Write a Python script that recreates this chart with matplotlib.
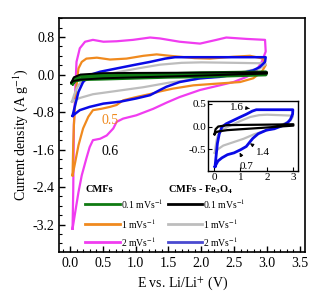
import matplotlib
matplotlib.use("Agg")
import matplotlib.pyplot as plt
from matplotlib.ticker import MultipleLocator

plt.rcParams['font.family'] = ['Liberation Serif', 'DejaVu Serif']
plt.rcParams['mathtext.fontset'] = 'stix'

# ---- data (E in V, current density in A/g) ----
mag_x = [0.04, 0.05, 0.06, 0.08, 0.10, 0.15, 0.23, 0.35, 0.51, 0.71, 0.96, 1.22, 1.37, 1.67, 1.98, 2.23, 2.38, 2.69, 2.97, 2.98,
         2.92, 2.84, 2.69, 2.49, 2.28, 1.98, 1.67, 1.47, 1.27, 1.01, 0.81, 0.71, 0.66, 0.56, 0.46, 0.35, 0.30, 0.25, 0.18, 0.13, 0.08, 0.04]
mag_y = [-3.29, -2.50, -1.08, -0.37, 0.27, 0.56, 0.70, 0.74, 0.70, 0.71, 0.74, 0.79, 0.77, 0.70, 0.66, 0.74, 0.79, 0.76, 0.74, 0.49,
         0.27, 0.09, -0.05, -0.16, -0.23, -0.33, -0.48, -0.60, -0.73, -0.87, -0.94, -1.01, -1.15, -1.30, -1.37, -1.40, -1.55, -1.79, -2.15, -2.51, -2.94, -3.29]

org_x = [0.04, 0.05, 0.06, 0.09, 0.13, 0.18, 0.25, 0.41, 0.61, 0.86, 1.12, 1.32, 1.52, 1.67, 1.90, 2.13, 2.49, 2.74, 2.94, 2.98,
         2.92, 2.79, 2.59, 2.28, 1.88, 1.57, 1.37, 1.27, 1.01, 0.81, 0.71, 0.61, 0.48, 0.35, 0.28, 0.20, 0.13, 0.08, 0.04]
org_y = [-2.15, -1.50, -1.08, -0.37, 0.13, 0.27, 0.34, 0.36, 0.32, 0.34, 0.40, 0.43, 0.40, 0.38, 0.35, 0.34, 0.38, 0.40, 0.34, 0.20,
         0.06, -0.08, -0.16, -0.19, -0.23, -0.30, -0.36, -0.40, -0.48, -0.55, -0.65, -0.69, -0.73, -0.76, -0.90, -1.15, -1.51, -1.87, -2.15]

grn_x = [0.04, 0.07, 0.15, 0.50, 1.00, 1.50, 2.00, 2.50, 2.98, 2.98, 2.50, 2.00, 1.50, 1.00, 0.50, 0.20, 0.08, 0.04]
grn_y = [-0.19, -0.08, -0.03, -0.02, 0.00, 0.01, 0.03, 0.04, 0.05, 0.00, -0.02, -0.04, -0.05, -0.07, -0.09, -0.10, -0.13, -0.19]

blk_x = [0.02, 0.06, 0.16, 0.50, 1.00, 1.80, 2.50, 3.00, 3.00, 2.50, 1.80, 1.00, 0.50, 0.15, 0.05, 0.02]
blk_y = [-0.17, -0.06, 0.00, 0.03, 0.035, 0.04, 0.045, 0.05, 0.02, 0.00, -0.03, -0.06, -0.08, -0.11, -0.14, -0.17]

gry_x = [0.03, 0.06, 0.10, 0.15, 0.30, 0.51, 0.76, 1.07, 1.37, 1.70, 2.00, 2.50, 2.95, 2.98,
         2.89, 2.64, 2.20, 1.80, 1.52, 1.12, 0.71, 0.35, 0.15, 0.06, 0.03]
gry_y = [-0.58, -0.45, -0.30, -0.19, -0.08, -0.01, 0.06, 0.14, 0.21, 0.25, 0.26, 0.25, 0.24, 0.22,
         0.13, 0.06, -0.05, -0.12, -0.17, -0.27, -0.35, -0.42, -0.50, -0.56, -0.58]

blu_x = [0.04, 0.08, 0.13, 0.20, 0.30, 0.46, 0.71, 0.96, 1.22, 1.45, 1.60, 2.00, 2.50, 2.98,
         2.97, 2.89, 2.79, 2.59, 2.28, 1.98, 1.67, 1.47, 1.37, 1.22, 1.01, 0.76, 0.51, 0.30, 0.15, 0.04]
blu_y = [-0.88, -0.65, -0.37, -0.16, -0.01, 0.06, 0.13, 0.20, 0.27, 0.34, 0.37, 0.37, 0.37, 0.37,
         0.27, 0.16, 0.09, 0.02, -0.05, -0.08, -0.16, -0.26, -0.33, -0.44, -0.51, -0.58, -0.62, -0.69, -0.76, -0.88]

col_grn = '#0f7a12'
col_org = '#f08a1e'
col_mag = '#f03cf0'
col_blk = '#000000'
col_gry = '#bdbdbd'
col_blu = '#0a0ae6'

fig = plt.figure(figsize=(3.32, 3.00), dpi=100)
ax = fig.add_axes([0.179, 0.161, 0.740, 0.778])

ax.plot(mag_x, mag_y, color=col_mag, lw=1.6)
ax.plot(org_x, org_y, color=col_org, lw=1.6)
ax.plot(gry_x, gry_y, color=col_gry, lw=1.6)
ax.plot(blu_x, blu_y, color=col_blu, lw=1.8)
ax.plot(grn_x, grn_y, color=col_grn, lw=2.6)
ax.plot(blk_x, blk_y, color=col_blk, lw=1.4)

ax.set_xlim(-0.16, 3.58)
ax.set_ylim(-3.78, 1.20)
ax.xaxis.set_major_locator(MultipleLocator(0.5))
ax.xaxis.set_minor_locator(MultipleLocator(0.1))
ax.yaxis.set_major_locator(MultipleLocator(0.8))
ax.yaxis.set_minor_locator(MultipleLocator(0.2))
ax.set_yticks([0.8, 0.0, -0.8, -1.6, -2.4, -3.2])
ax.set_yticklabels(['0.8', '0.0', '-0.8', '-1.6', '-2.4', '-3.2'])
ax.tick_params(which='both', direction='in', top=False, right=False, labelsize=10)
ax.tick_params(which='major', length=4, width=1)
ax.tick_params(which='minor', length=2, width=0.8)
for s in ax.spines.values():
    s.set_linewidth(1.2)
ax.set_xlabel(r'E vs. Li/Li$^{+}$ (V)', fontsize=10, labelpad=4)
ax.set_ylabel(r'Current density (A g$^{-1}$)', fontsize=10, labelpad=2)

ax.text(0.61, -0.98, '0.5', color=col_org, fontsize=10, ha='center', va='center')
ax.text(0.61, -1.65, '0.6', color='black', fontsize=10, ha='center', va='center')

# legend (manual)
ax.text(0.105, 0.266, 'CMFs', transform=ax.transAxes, fontsize=7.5, fontweight='bold', va='center')
ax.text(0.442, 0.266, r'CMFs - Fe$_\mathbf{3}$O$_\mathbf{4}$', transform=ax.transAxes, fontsize=7.5,
        fontweight='bold', va='center')
rows = [0.204, 0.117, 0.042]
labels = [r'0.1 mVs$^{-1}$', r'1 mVs$^{-1}$', r'2 mVs$^{-1}$']
left_cols = [col_grn, col_org, col_mag]
right_cols = [col_blk, col_gry, '#4a4ad0']
for r, lab, c1, c2 in zip(rows, labels, left_cols, right_cols):
    ax.plot([0.105, 0.247], [r, r], color=c1, lw=2.0, transform=ax.transAxes)
    ax.text(0.252, r, lab, transform=ax.transAxes, fontsize=7, va='center')
    ax.plot([0.442, 0.581], [r, r], color=c2, lw=2.0, transform=ax.transAxes)
    ax.text(0.586, r, lab, transform=ax.transAxes, fontsize=7, va='center')

# inset
axi = fig.add_axes([0.627, 0.430, 0.271, 0.233])
axi.plot(gry_x, gry_y, color=col_gry, lw=1.6)
axi.plot(blu_x, blu_y, color=col_blu, lw=2.0)
axi.plot(blk_x, blk_y, color=col_blk, lw=1.6)
axi.set_xlim(-0.22, 3.18)
axi.set_ylim(-0.98, 0.56)
axi.set_xticks([0, 1, 2, 3])
axi.set_yticks([0.5, 0.0, -0.5])
axi.set_yticklabels(['0.5', '0.0', '-0.5'])
axi.tick_params(direction='in', labelsize=8, length=3, pad=1.5, top=False, right=False)
for s in axi.spines.values():
    s.set_linewidth(1.0)

arrowkw = dict(arrowstyle='-|>', color='black', lw=0.7, mutation_scale=5)
axi.annotate('1.6', xy=(1.45, 0.39), xytext=(0.86, 0.43), fontsize=8, ha='center', va='center',
             arrowprops=arrowkw)
axi.annotate('1.4', xy=(1.36, -0.37), xytext=(1.87, -0.57), fontsize=8, ha='center', va='center',
             arrowprops=arrowkw)
axi.annotate('0.7', xy=(0.92, -0.52), xytext=(1.24, -0.87), fontsize=8, ha='center', va='center',
             arrowprops=arrowkw)

fig.savefig('out.png', dpi=100)
